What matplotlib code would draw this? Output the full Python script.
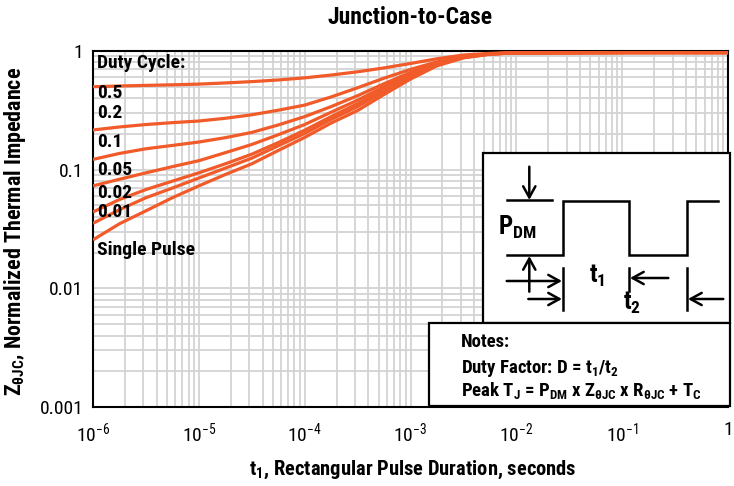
import matplotlib
matplotlib.use("Agg")
import matplotlib.pyplot as plt
from matplotlib import font_manager as fm
from matplotlib.patches import Rectangle, FancyArrowPatch
from matplotlib.ticker import LogLocator, NullFormatter, FixedLocator, FixedFormatter
import numpy as np


def pick_font():
    fl = fm.fontManager.ttflist
    names = {f.name for f in fl}
    for p in ['Roboto Condensed', 'Liberation Sans Narrow', 'Open Sans Condensed',
              'Noto Sans Condensed', 'DejaVu Sans Condensed', 'Arial Narrow']:
        if p in names:
            return p, 'normal'
    for fam in ['Roboto', 'Noto Sans', 'Open Sans', 'DejaVu Sans']:
        cond = [f for f in fl if f.name == fam and
                ('Condensed' in f.fname or f.stretch in ('condensed', 'semi-condensed'))]
        if cond:
            return fam, 'condensed'
    return 'Liberation Sans', 'normal'


FAM, STRETCH = pick_font()
plt.rcParams['font.family'] = [FAM, 'DejaVu Sans']
plt.rcParams['font.stretch'] = STRETCH

# ---------------- data ----------------
log_t = [-6, -5.75, -5.5, -5.25, -5, -4.75, -4.5, -4.25, -4, -3.75, -3.5,
         -3.25, -3, -2.75, -2.5, -2.25, -2, -1, 0]
z_d05 = [0.500, 0.507, 0.513, 0.519, 0.526, 0.538, 0.552, 0.570, 0.594, 0.627,
         0.668, 0.72, 0.785, 0.86, 0.925, 0.955, 0.965, 0.97, 0.97]
z_d02 = [0.216, 0.229, 0.240, 0.249, 0.257, 0.271, 0.290, 0.317, 0.350, 0.410,
         0.490, 0.59, 0.70, 0.81, 0.90, 0.95, 0.965, 0.97, 0.97]
z_d01 = [0.122, 0.137, 0.150, 0.160, 0.171, 0.186, 0.206, 0.238, 0.280, 0.340,
         0.420, 0.53, 0.66, 0.79, 0.895, 0.948, 0.965, 0.97, 0.97]
z_d005 = [0.073, 0.083, 0.094, 0.106, 0.119, 0.139, 0.163, 0.197, 0.240, 0.305,
          0.385, 0.50, 0.635, 0.78, 0.89, 0.945, 0.965, 0.97, 0.97]
z_d002 = [0.044, 0.056, 0.068, 0.080, 0.094, 0.112, 0.135, 0.169, 0.215, 0.280,
          0.360, 0.475, 0.615, 0.77, 0.885, 0.945, 0.965, 0.97, 0.97]
z_d001 = [0.0353, 0.046, 0.058, 0.070, 0.085, 0.103, 0.125, 0.159, 0.202, 0.265,
          0.340, 0.455, 0.60, 0.76, 0.88, 0.943, 0.965, 0.97, 0.97]
z_single = [0.0256, 0.035, 0.045, 0.058, 0.073, 0.091, 0.112, 0.145, 0.187, 0.247,
            0.315, 0.43, 0.58, 0.75, 0.875, 0.94, 0.965, 0.97, 0.97]
series = [z_d05, z_d02, z_d01, z_d005, z_d002, z_d001, z_single]
series_labels = ["0.5", "0.2", "0.1", "0.05", "0.02", "0.01", "Single Pulse"]

x_ticks = [1e-6, 1e-5, 1e-4, 1e-3, 1e-2, 1e-1, 1]
x_ticklabels = [r"$\mathdefault{10^{-6}}$", r"$\mathdefault{10^{-5}}$", r"$\mathdefault{10^{-4}}$",
                r"$\mathdefault{10^{-3}}$", r"$\mathdefault{10^{-2}}$", r"$\mathdefault{10^{-1}}$", "1"]
y_ticks = [0.001, 0.01, 0.1, 1]
y_ticklabels = ["0.001", "0.01", "0.1", "1"]

ORANGE = '#F15A29'
W, H = 734, 486

fig = plt.figure(figsize=(W / 100, H / 100), dpi=100)
ax = fig.add_axes([93 / W, 1 - 407 / H, 635 / W, 356 / H])
ax.set_xscale('log')
ax.set_yscale('log')
ax.set_xlim(1e-6, 1)
ax.set_ylim(1e-3, 1)

t = 10.0 ** np.array(log_t)
for z in series:
    ax.plot(t, z, color=ORANGE, lw=2.3, solid_capstyle='butt', solid_joinstyle='round', zorder=3)

ax.xaxis.set_major_locator(FixedLocator(x_ticks))
ax.xaxis.set_major_formatter(FixedFormatter(x_ticklabels))
ax.yaxis.set_major_locator(FixedLocator(y_ticks))
ax.yaxis.set_major_formatter(FixedFormatter(y_ticklabels))
ax.xaxis.set_minor_locator(LogLocator(base=10, subs=np.arange(2, 10), numticks=20))
ax.yaxis.set_minor_locator(LogLocator(base=10, subs=np.arange(2, 10), numticks=20))
ax.xaxis.set_minor_formatter(NullFormatter())
ax.yaxis.set_minor_formatter(NullFormatter())
ax.tick_params(which='both', length=0)
ax.tick_params(axis='x', pad=10, labelsize=14)
ax.tick_params(axis='y', pad=7, labelsize=14)
ax.grid(which='both', color='#d3d3d3', lw=1.3, zorder=0)
ax.set_axisbelow(True)
for s in ax.spines.values():
    s.set_linewidth(1.5)
    s.set_color('black')


def P(x, y):
    return (x / W, 1 - y / H)


fig.text(*P(410, 18), "Junction-to-Case", ha='center', va='center', fontsize=17, fontweight='bold')
fig.text(*P(413, 470), r"t$_\mathdefault{1}$, Rectangular Pulse Duration, seconds",
         ha='center', va='center', fontsize=14.8, fontweight='bold')
fig.text(*P(15, 231), r"Z$_\mathdefault{\theta JC}$, Normalized Thermal Impedance",
         ha='center', va='center', rotation=90, fontsize=15.8, fontweight='bold')

# labels inside the plot (pixel positions)
lab_y = [93.3, 112.7, 141.7, 170, 192.7, 211.7, 250]
fig.text(*P(97, 63.3), "Duty Cycle:", ha='left', va='center', fontsize=14, fontweight='bold')
for lab, yy in zip(series_labels, lab_y):
    fig.text(*P(97, yy), lab, ha='left', va='center', fontsize=14, fontweight='bold')


def box(x0, y0, x1, y1):
    r = Rectangle(P(x0, y1), (x1 - x0) / W, (y1 - y0) / H, transform=fig.transFigure,
                  facecolor='white', edgecolor='black', lw=1.6, zorder=10)
    fig.add_artist(r)


def line(xs, ys, lw=1.8):
    fig.add_artist(plt.Line2D([x / W for x in xs], [1 - y / H for y in ys],
                              transform=fig.transFigure, color='black', lw=lw, zorder=11,
                              solid_joinstyle='miter'))


def arrow(x0, y0, x1, y1):
    a = FancyArrowPatch(P(x0, y0), P(x1, y1), transform=fig.transFigure,
                        arrowstyle='->,head_length=0.4,head_width=0.22', mutation_scale=20,
                        color='black', lw=1.8, shrinkA=0, shrinkB=0, zorder=12)
    fig.add_artist(a)


box(483, 153, 730, 323)
box(429, 323, 730, 406)

# pulse diagram
line([506.7, 551.7], [200, 200])
line([506.7, 563.3, 563.3, 629.3, 629.3, 687.3, 687.3, 718.3],
     [255, 255, 201, 201, 255, 255, 201, 201])
arrow(529.3, 166.7, 529.3, 200)
arrow(529.3, 291.7, 529.3, 256)
line([562.7, 562.7], [268, 310])
line([629.3, 629.3], [268, 291])
line([687.3, 687.3], [268, 310])
arrow(506.7, 281, 562, 281)
arrow(528.3, 299, 562, 299)
arrow(668.3, 278, 630, 278)
arrow(723.3, 299, 688, 299)
fig.text(*P(498, 227), r"P$_\mathdefault{DM}$", ha='left', va='center', fontsize=18, fontweight='bold', zorder=13)
fig.text(*P(597, 276), r"t$_\mathdefault{1}$", ha='center', va='center', fontsize=18, fontweight='bold', zorder=13)
fig.text(*P(632, 303), r"t$_\mathdefault{2}$", ha='center', va='center', fontsize=18, fontweight='bold', zorder=13)

# notes
fig.text(*P(461, 342), "Notes:", ha='left', va='center', fontsize=13.5, fontweight='bold', zorder=13)
fig.text(*P(461, 368), r"Duty Factor: D = t$_\mathdefault{1}$/t$_\mathdefault{2}$", ha='left', va='center',
         fontsize=13.5, fontweight='bold', zorder=13)
fig.text(*P(461, 391), r"Peak T$_\mathdefault{J}$ = P$_\mathdefault{DM}$ x Z$_\mathdefault{\theta JC}$ x R$_\mathdefault{\theta JC}$ + T$_\mathdefault{C}$",
         ha='left', va='center', fontsize=13.5, fontweight='bold', zorder=13)

fig.savefig("out.png", dpi=100)
